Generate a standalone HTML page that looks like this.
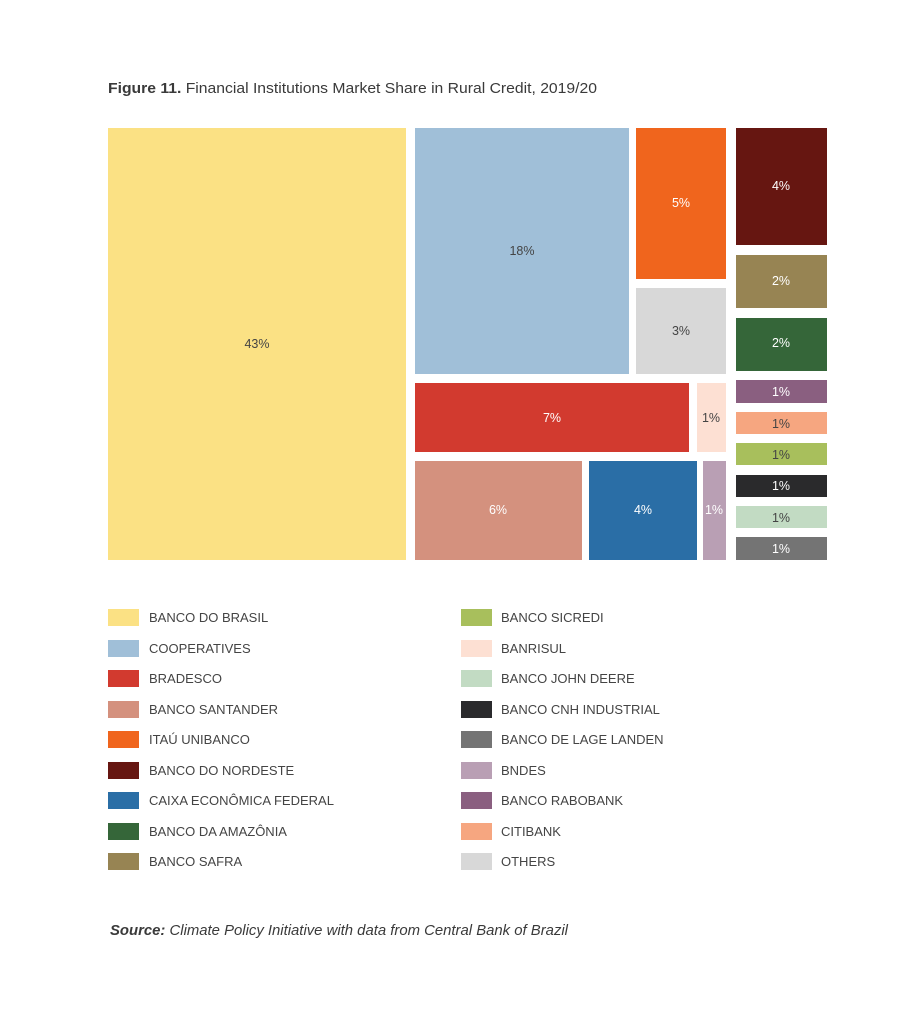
<!DOCTYPE html>
<html><head><meta charset="utf-8"><style>
html,body{margin:0;padding:0;background:#fff}
svg{display:block}
text{font-family:"Liberation Sans",sans-serif}
</style></head><body>
<svg width="922" height="1024" viewBox="0 0 922 1024">
<text x="108" y="93" font-size="15" fill="#3a3a3a" textLength="489" lengthAdjust="spacingAndGlyphs"><tspan font-weight="bold">Figure 11.</tspan> Financial Institutions Market Share in Rural Credit, 2019/20</text>

<g font-size="12.5" text-anchor="middle">
<rect x="108" y="128" width="298" height="432" fill="#fbe184"/><text x="257" y="348" fill="#444">43%</text>
<rect x="415" y="128" width="214" height="246" fill="#a0bfd8"/><text x="522" y="255" fill="#444">18%</text>
<rect x="636" y="128" width="90" height="151" fill="#f0651d"/><text x="681" y="207" fill="#fff">5%</text>
<rect x="636" y="288" width="90" height="86" fill="#d8d8d8"/><text x="681" y="335" fill="#444">3%</text>
<rect x="736" y="128" width="91" height="117" fill="#661611"/><text x="781" y="190" fill="#fff">4%</text>
<rect x="736" y="255" width="91" height="53" fill="#978453"/><text x="781" y="285" fill="#fff">2%</text>
<rect x="736" y="318" width="91" height="53" fill="#356639"/><text x="781" y="347" fill="#fff">2%</text>
<rect x="736" y="380" width="91" height="23" fill="#8a5f80"/><text x="781" y="396" fill="#fff">1%</text>
<rect x="736" y="412" width="91" height="22" fill="#f6a680"/><text x="781" y="428" fill="#444">1%</text>
<rect x="736" y="443" width="91" height="22" fill="#a8bf5c"/><text x="781" y="459" fill="#444">1%</text>
<rect x="736" y="475" width="91" height="22" fill="#2a2a2c"/><text x="781" y="490" fill="#fff">1%</text>
<rect x="736" y="506" width="91" height="22" fill="#c2dbc3"/><text x="781" y="522" fill="#444">1%</text>
<rect x="736" y="537" width="91" height="23" fill="#747474"/><text x="781" y="553" fill="#fff">1%</text>
<rect x="415" y="383" width="274" height="69" fill="#d23a2f"/><text x="552" y="422" fill="#fff">7%</text>
<rect x="697" y="383" width="29" height="69" fill="#fde0d3"/><text x="711" y="422" fill="#444">1%</text>
<rect x="415" y="461" width="167" height="99" fill="#d4917e"/><text x="498" y="514" fill="#fff">6%</text>
<rect x="589" y="461" width="108" height="99" fill="#2a6ea6"/><text x="643" y="514" fill="#fff">4%</text>
<rect x="703" y="461" width="23" height="99" fill="#b99fb4"/><text x="714" y="514" fill="#fff">1%</text>
</g>

<g font-size="13" fill="#444">
<rect x="108" y="609" width="31" height="17" fill="#fbe184"/><text x="149" y="622">BANCO DO BRASIL</text>
<rect x="108" y="640" width="31" height="17" fill="#a0bfd8"/><text x="149" y="653">COOPERATIVES</text>
<rect x="108" y="670" width="31" height="17" fill="#d23a2f"/><text x="149" y="683">BRADESCO</text>
<rect x="108" y="701" width="31" height="17" fill="#d4917e"/><text x="149" y="714">BANCO SANTANDER</text>
<rect x="108" y="731" width="31" height="17" fill="#f0651d"/><text x="149" y="744">ITAÚ UNIBANCO</text>
<rect x="108" y="762" width="31" height="17" fill="#661611"/><text x="149" y="775">BANCO DO NORDESTE</text>
<rect x="108" y="792" width="31" height="17" fill="#2a6ea6"/><text x="149" y="805">CAIXA ECONÔMICA FEDERAL</text>
<rect x="108" y="823" width="31" height="17" fill="#356639"/><text x="149" y="836">BANCO DA AMAZÔNIA</text>
<rect x="108" y="853" width="31" height="17" fill="#978453"/><text x="149" y="866">BANCO SAFRA</text>

<rect x="461" y="609" width="31" height="17" fill="#a8bf5c"/><text x="501" y="622">BANCO SICREDI</text>
<rect x="461" y="640" width="31" height="17" fill="#fde0d3"/><text x="501" y="653">BANRISUL</text>
<rect x="461" y="670" width="31" height="17" fill="#c2dbc3"/><text x="501" y="683">BANCO JOHN DEERE</text>
<rect x="461" y="701" width="31" height="17" fill="#2a2a2c"/><text x="501" y="714">BANCO CNH INDUSTRIAL</text>
<rect x="461" y="731" width="31" height="17" fill="#747474"/><text x="501" y="744">BANCO DE LAGE LANDEN</text>
<rect x="461" y="762" width="31" height="17" fill="#b99fb4"/><text x="501" y="775">BNDES</text>
<rect x="461" y="792" width="31" height="17" fill="#8a5f80"/><text x="501" y="805">BANCO RABOBANK</text>
<rect x="461" y="823" width="31" height="17" fill="#f6a680"/><text x="501" y="836">CITIBANK</text>
<rect x="461" y="853" width="31" height="17" fill="#d8d8d8"/><text x="501" y="866">OTHERS</text>
</g>

<text x="110" y="935" font-size="15" fill="#3a3a3a" font-style="italic" textLength="458" lengthAdjust="spacingAndGlyphs"><tspan font-weight="bold">Source:</tspan> Climate Policy Initiative with data from Central Bank of Brazil</text>
</svg>
</body></html>
